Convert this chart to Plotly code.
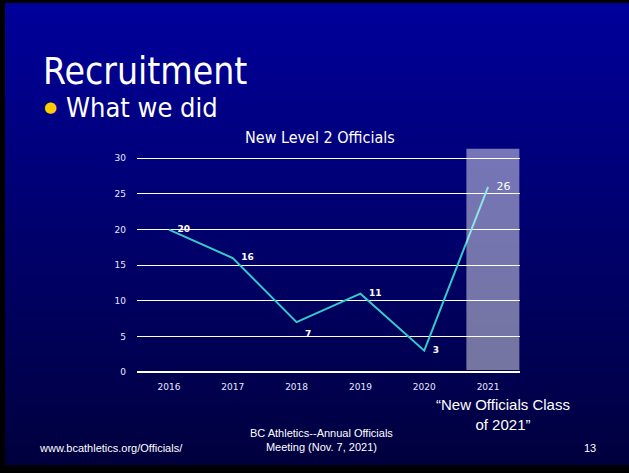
import base64, struct, zlib
import plotly.graph_objects as go

# ---- data ----
years = ["2016", "2017", "2018", "2019", "2020", "2021"]
officials = [20, 16, 7, 11, 3, 26]
label_pos = ["middle right", "middle right", "bottom right", "middle right", "middle right", "middle right"]
y_ticks = [0, 5, 10, 15, 20, 25, 30]

W, H = 629, 473

# ---- vertical gradient background (generated PNG) ----
def gradient_png(top, bottom, n=256):
    rows = b""
    for i in range(n):
        t = i / (n - 1)
        c = [round(top[k] + (bottom[k] - top[k]) * t) for k in range(3)]
        rows += b"\x00" + bytes(c)
    def chunk(tag, data):
        return struct.pack(">I", len(data)) + tag + data + struct.pack(">I", zlib.crc32(tag + data) & 0xffffffff)
    png = b"\x89PNG\r\n\x1a\n"
    png += chunk(b"IHDR", struct.pack(">IIBBBBB", 1, n, 8, 2, 0, 0, 0))
    png += chunk(b"IDAT", zlib.compress(rows))
    png += chunk(b"IEND", b"")
    return "data:image/png;base64," + base64.b64encode(png).decode()

bg = gradient_png((0, 0, 155), (0, 0, 62))

def px(x):
    return x / W

def py(y):
    return 1 - y / H

fig = go.Figure()
fig.add_trace(go.Scatter(
    x=years, y=officials, mode="lines+markers+text",
    line=dict(color="#33cccc", width=2),
    marker=dict(size=12, color="rgba(0,0,0,0)"),
    text=[f"<b>{v}</b>" if y != "2021" else f"{v}" for y, v in zip(years, officials)],
    textposition=label_pos,
    textfont=dict(color="white", size=[9, 9, 9, 9, 9, 11], family="DejaVu Sans"),
    cliponaxis=False, hoverinfo="skip", showlegend=False,
))

# highlighted 2021 band
fig.add_shape(type="rect", xref="x", yref="y", x0=4.66, x1=5.49, y0=0.28, y1=31.39,
              fillcolor="rgba(255,255,255,0.46)", line=dict(width=0), layer="above")

fig.add_layout_image(dict(source=bg, xref="paper", yref="paper", x=px(5), y=py(3),
                          sizex=px(W - 5), sizey=(H - 6) / H, sizing="stretch",
                          xanchor="left", yanchor="top", layer="below"))

white = "white"
ann = [
    dict(text="Recruitment", x=px(41), y=py(72), font=dict(size=37, family="DejaVu Sans Condensed", color=white), xanchor="left"),
    dict(text="What we did", x=px(64), y=py(109), font=dict(size=27, family="DejaVu Sans Condensed", color=white), xanchor="left"),
    dict(text="●", x=px(50), y=py(108), font=dict(size=15, family="DejaVu Sans", color="#ffcc00"), xanchor="center"),
    dict(text="New Level 2 Officials", x=px(320), y=py(139), font=dict(size=16, family="DejaVu Sans Condensed", color=white), xanchor="center"),
    dict(text="“New Officials Class<br>of 2021”", x=px(503), y=py(419), font=dict(size=15, family="Liberation Sans", color=white), xanchor="center", align="center"),
    dict(text="www.bcathletics.org/Officials/", x=px(37), y=py(453), font=dict(size=11, family="Liberation Sans", color=white), xanchor="left"),
    dict(text="BC Athletics--Annual Officials<br>Meeting (Nov. 7, 2021)", x=px(321), y=py(445), font=dict(size=11, family="Liberation Sans", color=white), xanchor="center", align="center"),
    dict(text="13", x=px(590), y=py(453), font=dict(size=11, family="Liberation Sans", color=white), xanchor="center"),
]
for a in ann:
    a.update(xref="paper", yref="paper", showarrow=False, yanchor="middle")
fig.update_layout(annotations=ann)

fig.update_layout(
    width=W, height=H, margin=dict(l=0, r=0, t=0, b=0),
    paper_bgcolor="black", plot_bgcolor="rgba(0,0,0,0)",
    xaxis=dict(domain=[px(137), px(520)], range=[-0.5, 5.5], type="category",
               showgrid=False, showline=False, zeroline=False, ticks="",
               tickfont=dict(size=9, family="DejaVu Sans", color="#e8e8ff"), ticklabelstandoff=8),
    yaxis=dict(domain=[py(376), py(150)], range=[0, 31.39], tickvals=y_ticks,
               showgrid=True, gridcolor="white", gridwidth=1, zeroline=True, zerolinecolor="white",
               showline=False, ticks="",
               tickfont=dict(size=9, family="DejaVu Sans", color="#e8e8ff"), ticklabelstandoff=10),
)

fig.write_html("out.html", config={"displayModeBar": False},
               post_script="document.body.style.margin='0';document.body.style.overflow='hidden';")
